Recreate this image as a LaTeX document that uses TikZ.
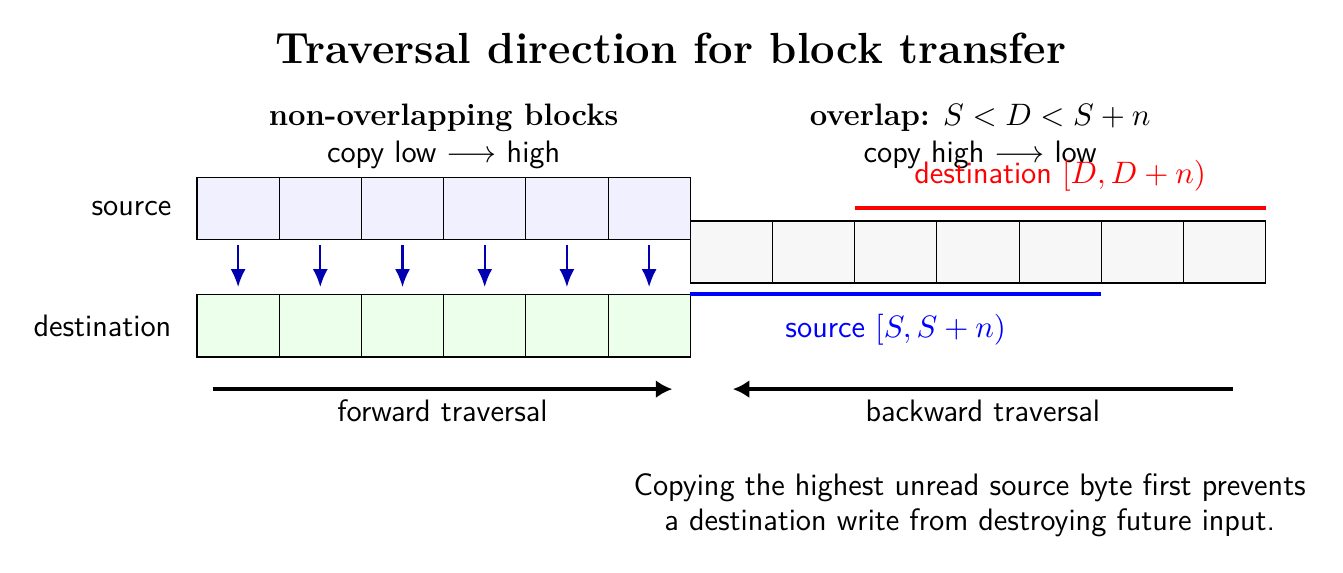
\RequirePackage{fix-cm}
\documentclass[tikz,border=0pt]{standalone}
\usepackage{amsmath,amssymb}
\usetikzlibrary{arrows.meta}

\newcommand{\lblsize}{\fontsize{11.8}{13.2}\selectfont}

\tikzset{
  cell/.style={draw, minimum width=1.1cm, minimum height=0.83cm, inner sep=0pt, outer sep=0pt, anchor=south west},
  srccell/.style={cell, fill=blue!6},
  dstcell/.style={cell, fill=green!8},
  memcell/.style={cell, fill=gray!6},
  lbl/.style={font=\lblsize\sffamily},
  copyarrow/.style={-{Latex[length=2.4mm,width=2mm]}, thick, blue!70!black},
  travarrow/.style={-{Latex[length=2.2mm,width=2.4mm]}, line width=1.5pt},
  rangeline/.style={line width=1.4pt}
}

\begin{document}
\begin{tikzpicture}
    \useasboundingbox (-2.636,-2.89) rectangle (15.335,4.777);
    % Title
    \node[font=\fontsize{16.6}{20}\selectfont\bfseries] (title) at (6.34,4.13) {Traversal direction for block transfer};
    % Left panel: non-overlapping blocks
    \node[font=\lblsize\bfseries] (lefthead) at (3.3,3.2) {non-overlapping blocks};
    \node[lbl] (leftsub) at (3.3,2.7) {copy low $\longrightarrow$ high};
    \foreach \i in {1,...,6} {
        \node[srccell] (s\i) at ({(\i-1)*1.1},1.566) {};
        \node[dstcell] (d\i) at ({(\i-1)*1.1},0) {};
        \draw[copyarrow, shorten <=2pt, shorten >=3pt] (s\i.south) -- (d\i.north);
    }
    \node[lbl, anchor=east] (srclbl) at (-0.22,1.98) {source};
    \node[lbl, anchor=east] (dstlbl) at (-0.22,0.415) {destination};
    % Right panel: overlapping blocks
    \node[font=\lblsize] (righthead) at (10.48,3.2) {\textbf{overlap:} $S<D<S+n$};
    \node[lbl] (rightsub) at (10.48,2.7) {copy high $\longrightarrow$ low};
    \foreach \i in {1,...,7}
        \node[memcell] (m\i) at ({6.6+(\i-1)*1.1},0.99) {};
    % destination and source ranges
    \coordinate (dstA) at ([yshift=0.17cm]m3.north west);
    \coordinate (dstB) at ([yshift=0.17cm]m7.north east);
    \draw[rangeline, red] (dstA) -- (dstB)
        node[midway, above=0.08cm, lbl] {destination $[D,D+n)$};
    \coordinate (srcA) at ([yshift=-0.15cm]m1.south west);
    \coordinate (srcB) at ([yshift=-0.15cm]m5.south east);
    \draw[rangeline, blue] (srcA) -- (srcB)
        node[midway, below=0.12cm, lbl] {source $[S,S+n)$};
    % Traversal arrows
    \coordinate (fwdA) at (0.21,-0.43);
    \coordinate (fwdB) at (6.36,-0.43);
    \draw[travarrow] (fwdA) -- (fwdB) node[midway, below=0pt, lbl] {forward traversal};
    \coordinate (bwdA) at (13.86,-0.43);
    \coordinate (bwdB) at (7.17,-0.43);
    \draw[travarrow] (bwdA) -- (bwdB) node[midway, below=0pt, lbl] {backward traversal};
    % Note
    \node[lbl, align=center] (note) at (10.34,-1.98) {Copying the highest unread source byte first prevents\\ a destination write from destroying future input.};
\end{tikzpicture}
\end{document}
